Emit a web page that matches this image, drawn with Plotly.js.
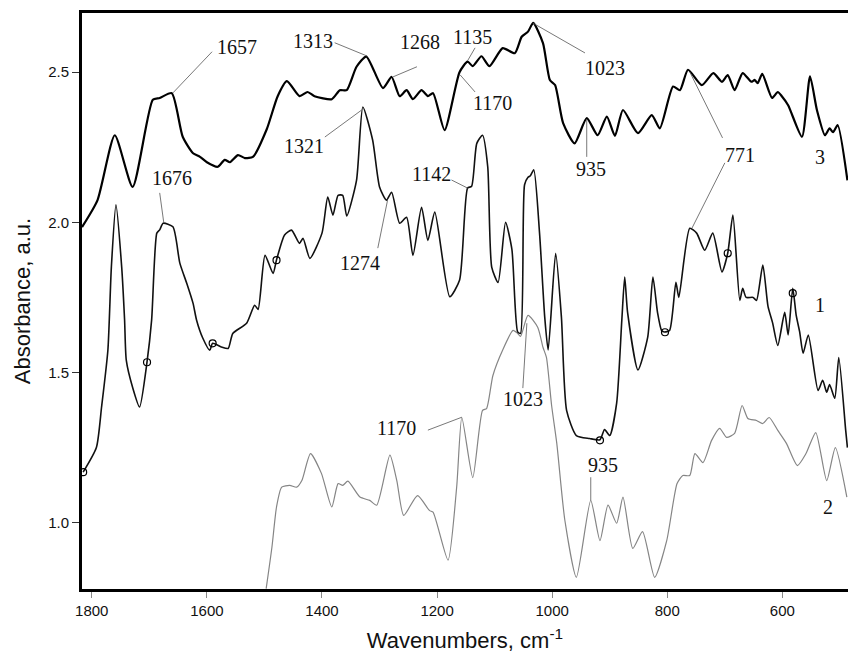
<!DOCTYPE html>
<html>
<head>
<meta charset="utf-8">
<script src="https://cdn.plot.ly/plotly-3.0.1.min.js"></script>
<style>html,body{margin:0;padding:0;background:#fff}#chart{width:848px;height:655px}</style>
</head>
<body>
<div id="chart"></div>
<script>
// Spectrum 3 (top)
const wn3 = [1817,1790,1760,1729,1694,1682,1661,1642,1624,1612,1600,1581,1569,1560,1546,1534,1520,1496,1477,1461,1439,1425,1413,1383,1369,1357,1340,1323,1294,1279,1265,1253,1242,1227,1216,1207,1187,1161,1147,1138,1123,1109,1086,1065,1053,1042,1033,1016,1004,995,981,961,940,921,905,891,877,851,827,813,790,778,764,740,720,705,695,683,669,654,648,643,635,618,608,601,590,566,552,540,526,518,512,504,487];
const abs3 = [1.984,2.074,2.29,2.118,2.408,2.414,2.43,2.285,2.23,2.218,2.20,2.185,2.208,2.20,2.224,2.214,2.218,2.31,2.42,2.47,2.42,2.434,2.42,2.41,2.44,2.44,2.518,2.552,2.447,2.484,2.42,2.44,2.41,2.44,2.42,2.43,2.307,2.50,2.535,2.52,2.553,2.52,2.58,2.563,2.618,2.635,2.664,2.597,2.474,2.457,2.33,2.263,2.347,2.29,2.352,2.288,2.374,2.297,2.357,2.313,2.452,2.44,2.508,2.457,2.497,2.468,2.49,2.44,2.497,2.468,2.474,2.463,2.494,2.414,2.434,2.42,2.39,2.285,2.486,2.374,2.29,2.313,2.30,2.324,2.14];

// Spectrum 1 (middle)
const wn1 = [1815,1792,1783,1772,1766,1758,1748,1743,1740,1729,1717,1704,1696,1687,1682,1676,1659,1647,1635,1624,1618,1607,1595,1590,1575,1563,1555,1531,1517,1511,1499,1485,1479,1465,1453,1439,1433,1421,1400,1390,1381,1372,1364,1357,1340,1329,1312,1300,1288,1279,1265,1253,1242,1227,1216,1204,1178,1161,1147,1140,1131,1121,1112,1105,1094,1081,1070,1060,1055,1048,1042,1038,1032,1022,1013,1007,994,984,975,958,935,917,909,900,888,879,874,869,851,834,825,817,810,805,796,785,780,761,749,735,721,705,695,686,674,669,663,651,645,634,625,617,608,596,590,582,576,570,564,555,538,530,523,518,509,502,490,487];
const abs1 = [1.168,1.25,1.385,1.575,1.85,2.058,1.85,1.675,1.54,1.45,1.385,1.535,1.675,1.964,1.975,1.997,1.985,1.864,1.797,1.73,1.675,1.614,1.574,1.597,1.585,1.58,1.63,1.664,1.724,1.71,1.89,1.83,1.875,1.958,1.974,1.93,1.947,1.88,1.964,2.084,2.024,2.09,2.09,2.021,2.14,2.384,2.274,2.118,2.074,2.10,1.997,2.017,1.89,2.05,1.94,2.034,1.752,1.807,2.114,2.12,2.263,2.29,2.185,1.85,1.80,2.0,1.91,1.635,1.63,2.125,2.15,2.155,2.175,1.965,1.685,1.575,1.897,1.685,1.374,1.29,1.28,1.276,1.31,1.29,1.398,1.675,1.818,1.70,1.508,1.618,1.818,1.70,1.64,1.635,1.64,1.80,1.75,1.98,1.964,1.907,1.964,1.835,1.897,2.024,1.74,1.78,1.75,1.75,1.74,1.858,1.72,1.665,1.59,1.70,1.625,1.78,1.69,1.635,1.564,1.625,1.44,1.474,1.434,1.46,1.414,1.55,1.307,1.25];

// Spectrum 2 (bottom, grey)
const wn2 = [1497,1487,1479,1470,1456,1444,1435,1420,1401,1383,1372,1364,1355,1334,1317,1305,1282,1270,1258,1234,1213,1207,1181,1166,1157,1138,1121,1114,1103,1086,1068,1060,1055,1042,1025,1016,1010,1001,992,978,958,933,917,903,888,877,860,843,822,801,783,773,761,752,738,723,709,697,683,670,660,645,634,623,608,593,574,559,542,523,508,488];
const abs2 = [0.78,0.918,1.052,1.118,1.124,1.118,1.14,1.23,1.164,1.052,1.13,1.124,1.138,1.085,1.074,1.058,1.225,1.14,1.024,1.09,1.04,1.035,0.875,1.118,1.35,1.15,1.374,1.38,1.49,1.575,1.64,1.63,1.62,1.69,1.65,1.584,1.55,1.39,1.264,1.008,0.818,1.074,0.94,1.058,0.998,1.085,0.914,0.97,0.818,0.94,1.13,1.157,1.157,1.23,1.20,1.274,1.314,1.284,1.297,1.39,1.347,1.34,1.33,1.35,1.307,1.264,1.19,1.23,1.30,1.14,1.25,1.085];

// Marked points (open circles) on spectrum 1
const markWn = [1815,1704,1590,1479,917,804,695,582];
const markAbs = [1.168,1.534,1.597,1.874,1.274,1.634,1.897,1.764];

// Tick values
const xTicks = [1800,1600,1400,1200,1000,800,600];
const yTicks = [1.0,1.5,2.0,2.5];

// Peak labels: text, label position, leader line [from, to]
const peakLabels = [
  {t:'1657', x:1548, y:2.584, l:[[1591,2.568,1659,2.431]]},
  {t:'1313', x:1416, y:2.604, l:[[1378,2.598,1322,2.554]]},
  {t:'1268', x:1230, y:2.601, l:[[1235,2.518,1277,2.484]]},
  {t:'1135', x:1138, y:2.618, l:[[1134,2.581,1147,2.538]]},
  {t:'1170', x:1103, y:2.397, l:[[1134,2.434,1160,2.491]]},
  {t:'1023', x:909, y:2.514, l:[[943,2.564,1034,2.664]]},
  {t:'935', x:933, y:2.177, l:[[940,2.218,940,2.341]]},
  {t:'771', x:674, y:2.224, l:[[704,2.281,761,2.501],[700,2.198,757,1.981]]},
  {t:'3', x:535, y:2.218, l:[]},
  {t:'1321', x:1432, y:2.254, l:[[1395,2.284,1331,2.374]]},
  {t:'1676', x:1661, y:2.147, l:[[1682,2.098,1675,2.0]]},
  {t:'1142', x:1209, y:2.161, l:[[1175,2.141,1147,2.114]]},
  {t:'1274', x:1334, y:1.864, l:[[1303,1.914,1286,2.074]]},
  {t:'1', x:535, y:1.724, l:[]},
  {t:'1023', x:1051, y:1.411, l:[[1051,1.448,1044,1.664]]},
  {t:'1170', x:1270, y:1.314, l:[[1216,1.308,1157,1.351]]},
  {t:'935', x:912, y:1.191, l:[[933,1.151,933,1.074]]},
  {t:'2', x:521, y:1.051, l:[]}
];

const traces = [
  {x:wn2, y:abs2, type:'scatter', mode:'lines', line:{color:'#858585', width:1.2, shape:'spline', smoothing:0.6}, hoverinfo:'skip'},
  {x:wn1, y:abs1, type:'scatter', mode:'lines', line:{color:'#111', width:1.6, shape:'spline', smoothing:0.6}, hoverinfo:'skip'},
  {x:wn3, y:abs3, type:'scatter', mode:'lines', line:{color:'#000', width:2.2, shape:'spline', smoothing:0.6}, hoverinfo:'skip'},
  {x:markWn, y:markAbs, type:'scatter', mode:'markers', marker:{symbol:'circle-open', size:7, color:'#000', line:{width:1.2}}, hoverinfo:'skip'}
];

const annotations = [];
const shapes = [];
peakLabels.forEach(p => {
  annotations.push({x:p.x, y:p.y, xref:'x', yref:'y', text:p.t, showarrow:false,
    font:{family:'Liberation Serif, Times New Roman, serif', size:20, color:'#111'}});
  p.l.forEach(s => shapes.push({type:'line', xref:'x', yref:'y', x0:s[0], y0:s[1], x1:s[2], y1:s[3],
    line:{color:'#555', width:0.8}}));
});

const layout = {
  width:848, height:655,
  margin:{l:82, r:0, t:13, b:66},
  paper_bgcolor:'#fff', plot_bgcolor:'#fff',
  showlegend:false,
  xaxis:{range:[1817,486], tickvals:xTicks, ticktext:xTicks.map(String),
    showgrid:false, zeroline:false, showline:true, linecolor:'#000', linewidth:3, mirror:true,
    ticks:'outside', ticklen:6, tickwidth:1, tickcolor:'#888',
    tickfont:{family:'Liberation Sans, Arial, sans-serif', size:15, color:'#111'},
    title:{text:'Wavenumbers, cm<sup>-1</sup>', standoff:15,
      font:{family:'Liberation Sans, Arial, sans-serif', size:22, color:'#111'}}},
  yaxis:{range:[0.779,2.697], tickvals:yTicks, ticktext:yTicks.map(v=>v.toFixed(1)),
    showgrid:false, zeroline:false, showline:true, linecolor:'#000', linewidth:3,
    ticks:'outside', ticklen:7, tickwidth:1, tickcolor:'#333',
    tickfont:{family:'Liberation Sans, Arial, sans-serif', size:15, color:'#111'},
    title:{text:'Absorbance, a.u.', standoff:12,
      font:{family:'Liberation Sans, Arial, sans-serif', size:22, color:'#111'}}},
  annotations:annotations,
  shapes:shapes
};

Plotly.newPlot('chart', traces, layout, {staticPlot:true, displayModeBar:false});
</script>
</body>
</html>
